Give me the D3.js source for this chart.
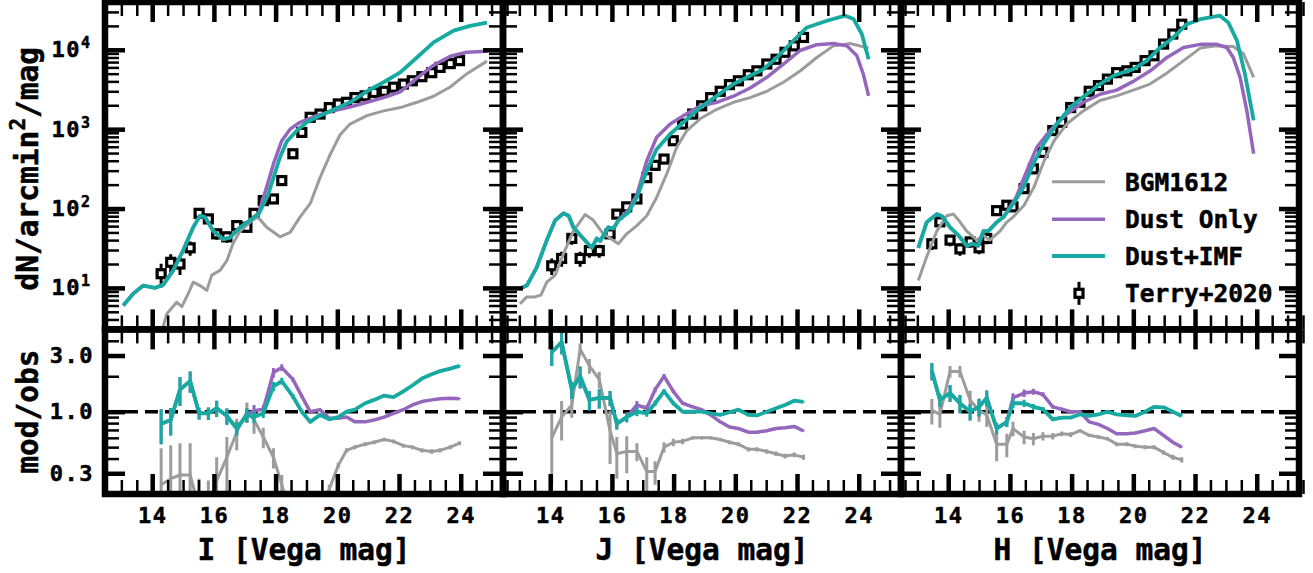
<!DOCTYPE html>
<html><head><meta charset="utf-8">
<script src="https://cdn.jsdelivr.net/npm/d3@7/dist/d3.min.js"></script>
<style>
body{margin:0;background:#fff}
text{font-family:"DejaVu Sans Mono",monospace;font-weight:bold;fill:#000;stroke:#000;stroke-width:0.5px}
</style></head>
<body><svg id="c" width="1313" height="573"></svg>
<script>
// ---------------- data ----------------
const bandNames = ["I","J","H"];
const xAxisLabels = ["I [Vega mag]","J [Vega mag]","H [Vega mag]"];
const seriesNames = ["BGM1612","Dust Only","Dust+IMF","Terry+2020"];
const xMajorTicks = [14,16,18,20,22,24];
const yTopTickLabels = [10,100,1000,10000];
const yBotTickValues = [0.3,1,3];
const yBotTickLabels = ["0.3","1.0","3.0"];

// I band
const I_bgm_mag = [14.31,14.47,14.79,14.96,15.17,15.33,15.55,15.77,15.93,16.2,16.42,16.63,16.85,17.17,17.39,17.5,17.71,18.14,18.47,18.79,19.12,19.44,19.77,20.09,20.41,20.96,21.5,22.04,22.58,23.12,23.66,24.2,24.85];
const I_bgm_val = [2.8,4.7,6.6,5.8,8.5,11.8,10.7,9.3,14.5,16.6,22,37,52,67,78,72,58,44,50,78,115,245,480,850,1160,1480,1700,1870,2180,2600,3400,5000,7200];
const I_dust_mag = [13.06,13.39,13.71,14.09,14.36,14.68,15.0,15.33,15.55,15.71,15.98,16.31,16.52,16.85,17.17,17.45,17.71,17.93,18.2,18.47,18.79,19.33,19.87,20.41,20.96,21.5,22.04,22.58,23.12,23.66,24.2,24.85];
const I_dust_val = [6.0,8.5,10.7,10,11,16.6,29.5,58,81,78,52,41,43,58,71,88,186,365,716,1000,1220,1480,1700,1900,2180,2500,2950,4400,6400,8300,9300,9600];
const I_imf_mag = [13.06,13.39,13.71,14.09,14.36,14.68,15.0,15.33,15.55,15.71,15.98,16.31,16.52,16.85,17.17,17.45,17.76,17.95,18.14,18.36,18.69,19.01,19.44,19.87,20.41,20.96,21.5,22.04,22.58,23.12,23.77,24.3,24.85];
const I_imf_val = [6.0,8.5,10.7,10,11,16.6,29.5,58,81,78,52,41,43,58,71,85,150,260,440,700,960,1220,1480,1750,2180,3000,3900,5200,8000,12400,17400,20000,22000];
const I_obs_mag = [14.29,14.6,14.9,15.23,15.52,15.82,16.09,16.42,16.74,17.07,17.3,17.6,17.93,18.2,18.56,18.85,19.12,19.44,19.74,20.03,20.3,20.57,20.9,21.19,21.52,21.82,22.14,22.43,22.74,23.06,23.33,23.66,23.96];
const I_obs_val = [15.1,21,20,32,87,74,48,44,61,58,87,126,132,225,490,910,1410,1550,1870,2080,2180,2500,2630,2900,3000,3380,3700,4070,4580,5150,6000,6700,7300];
const I_obs_err = [5,5.5,5.5,6.5,10,9,7.5,7,8,8,10,11,12,15,22,30,37,39,43,45,46,50,51,54,55,58,61,64,68,72,77,82,85];
const I_ratio_bgm = [0.24,0.27,0.29,0.29,0.15,0.14,0.26,0.41,0.67,1.0,0.85,0.61,0.41,0.24,0.11,0.09,0.08,0.16,0.22,0.35,0.47,0.50,0.53,0.55,0.58,0.56,0.515,0.50,0.47,0.46,0.47,0.50,0.54];
const I_ratio_bgm_err = [0.25,0.25,0.25,0.25,0.12,0.12,0.15,0.2,0.2,0.2,0.2,0.12,0.08,0.05,0.02,0.02,0.01,0.02,0.02,0.02,0.02,0.02,0.02,0.02,0.02,0.02,0.02,0.02,0.02,0.02,0.02,0.02,0.02];
const I_ratio_dust = [0.79,0.85,1.54,1.82,0.97,0.97,1.07,0.92,0.72,0.94,1.02,1.05,2.15,2.37,1.88,1.35,1.0,1.04,0.88,0.88,0.9,0.82,0.82,0.85,0.9,0.97,1.04,1.14,1.22,1.26,1.29,1.30,1.29];
const I_ratio_imf = [0.79,0.85,1.54,1.82,0.97,0.97,1.07,0.92,0.72,0.94,0.9,0.97,1.64,1.82,1.35,1.0,0.82,0.94,0.86,0.90,1.0,1.04,1.18,1.26,1.37,1.33,1.49,1.67,1.91,2.08,2.21,2.32,2.45];

// J band
const J_bgm_mag = [13.02,13.24,13.5,13.7,13.89,14.16,14.43,14.75,15.13,15.4,15.72,16.21,16.48,16.81,17.13,17.45,17.78,18.1,18.43,18.86,19.4,19.94,20.48,21.02,21.56,22.1,22.64,23.18,23.72,24.32];
const J_bgm_val = [6.3,7.7,7.7,8.1,11.8,14.5,27,52,84,71,48,36,48,61,81,138,275,590,960,1350,1780,2180,2500,3000,3900,5400,8000,11200,12000,10500];
const J_dust_mag = [13.02,13.24,13.56,13.89,14.16,14.43,14.6,14.75,15.07,15.35,15.51,15.62,15.88,16.05,16.21,16.53,16.81,17.13,17.45,17.89,18.32,18.86,19.4,19.94,20.48,21.02,21.56,22.1,22.64,23.18,23.62,23.94,24.15,24.32];
const J_dust_val = [9.8,10.7,18,40,71,87,81,58,42,32,42,39,58,56,71,95,150,400,790,1160,1480,1950,2180,2600,3300,4500,6600,9800,11600,12000,11200,8400,4900,2630];
const J_imf_mag = [13.02,13.24,13.56,13.89,14.16,14.43,14.6,14.75,15.07,15.35,15.51,15.62,15.88,16.05,16.21,16.53,16.81,17.13,17.45,17.89,18.32,18.86,19.4,19.94,20.48,20.91,21.35,21.88,22.32,22.97,23.56,23.83,24.1,24.32];
const J_imf_val = [9.8,10.7,18,40,71,87,81,58,42,32,42,39,58,56,71,89,138,300,560,870,1220,1870,2630,3700,4700,5700,8000,13000,19100,23200,26900,24500,15800,7600];
const J_obs_mag = [14.05,14.37,14.7,14.97,15.27,15.59,15.94,16.16,16.48,16.81,17.13,17.4,17.69,17.99,18.29,18.62,18.91,19.2,19.51,19.81,20.1,20.42,20.7,21.02,21.32,21.61,21.91,22.21];
const J_obs_val = [19,23.5,42,23.5,29.5,29.5,48,85,105,132,245,350,420,715,1160,1550,1970,2500,3000,3640,4070,4850,5430,6620,7600,9300,11200,14300];
const J_obs_err = [4.5,5,7,5,5.5,5.5,7,9,10,11,16,19,20,27,34,39,44,50,55,60,64,70,74,81,87,96,106,120];
const J_ratio_bgm = [0.6,0.9,1.14,3.4,2.45,1.88,0.69,0.44,0.46,0.46,0.31,0.31,0.5,0.55,0.56,0.6,0.6,0.6,0.58,0.55,0.53,0.48,0.48,0.46,0.44,0.42,0.43,0.41];
const J_ratio_bgm_err = [0.36,0.33,0.25,0.4,0.35,0.3,0.33,0.17,0.16,0.08,0.1,0.07,0.05,0.04,0.03,0.02,0.02,0.02,0.02,0.02,0.02,0.02,0.02,0.02,0.02,0.02,0.02,0.02];
const J_ratio_dust = [3.2,3.9,1.54,2.0,1.26,1.31,1.31,0.79,0.9,1.14,1.07,1.54,2.0,1.49,1.18,1.1,1.04,0.94,0.82,0.74,0.72,0.67,0.67,0.69,0.72,0.73,0.75,0.685];
const J_ratio_imf = [3.2,3.9,1.54,2.0,1.26,1.31,1.31,0.79,0.9,1.0,0.97,1.18,1.49,1.18,1.0,1.0,1.0,0.97,0.94,0.99,1.04,0.94,0.93,1.0,1.07,1.14,1.24,1.21];

// H band
const H_bgm_mag = [13.03,13.3,13.63,13.95,14.17,14.38,14.6,14.93,15.14,15.35,15.68,15.89,16.1,16.46,16.78,17.11,17.43,17.84,18.38,18.92,19.46,20.0,20.54,21.09,21.63,22.17,22.7,23.24,23.57,23.9];
const H_bgm_val = [12.4,24.5,52,81,85,68,52,40,46,40,52,67,78,110,186,400,715,1160,1700,2300,2630,3100,3700,5100,7300,10500,11200,11000,8900,4500];
const H_dust_mag = [13.03,13.3,13.63,13.8,14.06,14.33,14.6,14.8,14.97,15.14,15.3,15.57,15.79,16.2,16.55,16.87,17.3,17.84,18.38,18.92,19.46,20.0,20.54,21.09,21.63,22.17,22.7,23.03,23.24,23.46,23.68,23.9];
const H_dust_val = [32,67,85,80,58,46,34,36,34,52,52,67,78,138,300,590,960,1550,2180,2750,3100,4000,5400,8000,10700,11700,11700,10700,8000,4500,1700,490];
const H_imf_mag = [13.03,13.3,13.63,13.8,14.06,14.33,14.6,14.8,14.97,15.14,15.3,15.57,15.79,16.11,16.44,16.76,17.09,17.52,17.95,18.49,18.92,19.35,20.0,20.44,20.87,21.3,21.73,22.17,22.81,23.08,23.36,23.62,23.9];
const H_imf_val = [32,67,85,80,58,46,34,36,34,52,52,67,78,115,186,365,650,1160,1870,2750,3700,4700,5700,7300,10700,14300,21000,24300,26900,22000,13000,4900,1290];
const H_obs_mag = [13.47,13.73,14.06,14.38,14.71,15.0,15.25,15.57,15.9,16.1,16.46,16.76,17.07,17.39,17.68,17.97,18.27,18.57,18.87,19.16,19.46,19.79,20.06,20.38,20.67,20.98,21.28,21.57];
const H_obs_val = [36,68,40,31,38,32,42,94,110,105,178,316,510,960,1220,1870,2180,3000,3540,4270,5150,5430,6000,7300,8400,11800,15800,21000];
const H_obs_err = [6,8.5,6.5,5.5,6,5.5,6.5,10,10.5,10,13,18,23,31,35,43,47,55,60,65,72,74,78,85,92,109,126,145];
const H_ratio_bgm = [1.03,0.95,2.2,2.2,1.26,1.02,0.94,0.53,0.53,0.72,0.61,0.59,0.62,0.62,0.65,0.64,0.69,0.63,0.61,0.59,0.53,0.53,0.51,0.50,0.50,0.45,0.41,0.39];
const H_ratio_bgm_err = [0.25,0.22,0.25,0.25,0.25,0.2,0.2,0.15,0.12,0.1,0.08,0.07,0.05,0.04,0.03,0.03,0.02,0.02,0.02,0.02,0.02,0.02,0.02,0.02,0.02,0.02,0.02,0.02];
const H_ratio_dust = [2.22,1.26,1.44,1.18,1.0,1.10,1.31,0.72,0.82,1.31,1.44,1.48,1.40,1.10,1.05,1.0,1.0,0.82,0.78,0.72,0.65,0.65,0.66,0.69,0.72,0.63,0.55,0.50];
const H_ratio_imf = [2.22,1.26,1.44,1.18,1.0,1.10,1.31,0.72,0.82,1.18,1.18,1.10,1.05,0.86,0.89,0.89,0.95,0.92,0.95,1.0,0.95,0.93,0.92,1.0,1.10,1.09,1.0,0.92];

const colors = {bgm:"#9c9c9c", dust:"#9467bd", imf:"#17aaa2"};

// -------------- build --------------
const panels = [
 {bgm:[I_bgm_mag,I_bgm_val],dust:[I_dust_mag,I_dust_val],imf:[I_imf_mag,I_imf_val],obs:[I_obs_mag,I_obs_val,I_obs_err],rat:[I_ratio_bgm,I_ratio_dust,I_ratio_imf],gerr:I_ratio_bgm_err},
 {bgm:[J_bgm_mag,J_bgm_val],dust:[J_dust_mag,J_dust_val],imf:[J_imf_mag,J_imf_val],obs:[J_obs_mag,J_obs_val,J_obs_err],rat:[J_ratio_bgm,J_ratio_dust,J_ratio_imf],gerr:J_ratio_bgm_err},
 {bgm:[H_bgm_mag,H_bgm_val],dust:[H_dust_mag,H_dust_val],imf:[H_imf_mag,H_imf_val],obs:[H_obs_mag,H_obs_val,H_obs_err],rat:[H_ratio_bgm,H_ratio_dust,H_ratio_imf],gerr:H_ratio_bgm_err}
];
const zip = (a,b)=>a.map((v,i)=>[v,b[i]]);

const svg = d3.select("#c");
const X0 = [105,503,901], PW = 398;
const yTop = 2, ySplit = 329.4, yBot = 494;
const xDomain = [12.47,25.37];
const SPINE = 6.5, MAJ = 20, MIN = 14, MAJW = 4.5, MINW = 2.5;
const TICKFS = 22;

const xMinorTicks = d3.range(12.5,25.6,0.5).filter(v=>v%2!==0);
const topMinor = [], topMajor=[10,100,1000,10000];
[1,10,100,1000,10000].forEach(p=>{for(let k=2;k<=9;k++){const v=k*p; if(v>=3&&v<=4e4) topMinor.push(v);}});
const botMinor = [0.2,0.4,0.5,0.6,0.7,0.8,0.9,2,4,5];

function ticks(g, axisFn, scale, values, size, width){
  const a = g.append("g").call(axisFn(scale).tickValues(values).tickSize(-size).tickFormat(""));
  a.select(".domain").remove();
  a.selectAll(".tick line").attr("stroke","#000").attr("stroke-width",width);
  return a;
}

panels.forEach((P,i)=>{
  const x = d3.scaleLinear().domain(xDomain).range([X0[i],X0[i]+PW]);
  const yT = d3.scaleLog().domain([3,4e4]).range([ySplit,yTop]);
  const yB = d3.scaleLog().domain([0.2,5]).range([yBot,ySplit]);

  const cidT = "clipT"+i, cidB="clipB"+i;
  svg.append("clipPath").attr("id",cidT).append("rect").attr("x",X0[i]).attr("y",yTop).attr("width",PW).attr("height",ySplit-yTop);
  svg.append("clipPath").attr("id",cidB).append("rect").attr("x",X0[i]).attr("y",ySplit).attr("width",PW).attr("height",yBot-ySplit);

  // ---- top panel ----
  const gT = svg.append("g").attr("clip-path",`url(#${cidT})`);
  const lineT = d3.line().x(d=>x(d[0])).y(d=>yT(d[1]));
  const obs = P.obs[0].map((m,k)=>({m, v:P.obs[1][k], e:P.obs[2][k]}));
  gT.selectAll(".eb").data(obs).join("line")
    .attr("x1",d=>x(d.m)).attr("x2",d=>x(d.m))
    .attr("y1",d=>yT(Math.max(d.v-d.e,0.01))).attr("y2",d=>yT(d.v+d.e))
    .attr("stroke","#000").attr("stroke-width",3);
  gT.selectAll(".mk").data(obs).join("rect")
    .attr("x",d=>x(d.m)-4).attr("y",d=>yT(d.v)-4).attr("width",8).attr("height",8)
    .attr("fill","#fff").attr("stroke","#000").attr("stroke-width",3.2);
  [["bgm",3],["dust",3.5],["imf",3.8]].forEach(([k,w])=>{
    gT.append("path").attr("d",lineT(zip(P[k][0],P[k][1]))).attr("fill","none")
      .attr("stroke",colors[k]).attr("stroke-width",w).attr("stroke-linejoin","round");
  });

  // ---- bottom panel ----
  const gB = svg.append("g").attr("clip-path",`url(#${cidB})`);
  gB.append("line").attr("x1",X0[i]).attr("x2",X0[i]+PW).attr("y1",yB(1)).attr("y2",yB(1))
    .attr("stroke","#000").attr("stroke-width",3.5).attr("stroke-dasharray","13,7");
  const lineB = d3.line().x(d=>x(d[0])).y(d=>yB(Math.max(d[1],0.01)));
  const keys = ["bgm","dust","imf"], widths=[3,3.5,3.8];
  P.rat.forEach((r,s)=>{
    const col = colors[keys[s]];
    const pts = P.obs[0].map((m,k)=>({m, r:r[k], e: s===0 ? P.gerr[k] : r[k]*P.obs[2][k]/P.obs[1][k]}));
    gB.append("g").selectAll("line").data(pts).join("line")
      .attr("x1",d=>x(d.m)).attr("x2",d=>x(d.m))
      .attr("y1",d=>yB(Math.max(d.r-d.e,0.01))).attr("y2",d=>yB(d.r+d.e))
      .attr("stroke",col).attr("stroke-width",3);
    gB.append("path").attr("d",lineB(zip(P.obs[0],r))).attr("fill","none")
      .attr("stroke",col).attr("stroke-width",widths[s]).attr("stroke-linejoin","round");
  });

  // ---- ticks & spines ----
  const L = X0[i], R = X0[i]+PW;
  [[yTop,ySplit,yT,topMajor,topMinor],[ySplit,yBot,yB,yBotTickValues,botMinor]].forEach(([t,b,ys,maj,mnr])=>{
    ticks(svg.append("g").attr("transform",`translate(0,${b})`), d3.axisBottom, x, xMajorTicks, MAJ, MAJW);
    ticks(svg.append("g").attr("transform",`translate(0,${b})`), d3.axisBottom, x, xMinorTicks, MIN, MINW);
    ticks(svg.append("g").attr("transform",`translate(0,${t})`), d3.axisTop, x, xMajorTicks, MAJ, MAJW);
    ticks(svg.append("g").attr("transform",`translate(0,${t})`), d3.axisTop, x, xMinorTicks, MIN, MINW);
    ticks(svg.append("g").attr("transform",`translate(${L},0)`), d3.axisLeft, ys, maj, MAJ, MAJW);
    ticks(svg.append("g").attr("transform",`translate(${L},0)`), d3.axisLeft, ys, mnr, MIN, MINW);
    ticks(svg.append("g").attr("transform",`translate(${R},0)`), d3.axisRight, ys, maj, MAJ, MAJW);
    ticks(svg.append("g").attr("transform",`translate(${R},0)`), d3.axisRight, ys, mnr, MIN, MINW);
    svg.append("rect").attr("x",L).attr("y",t).attr("width",PW).attr("height",b-t)
      .attr("fill","none").attr("stroke","#000").attr("stroke-width",SPINE);
  });

  const ax = svg.append("g").attr("transform",`translate(0,${yBot})`)
    .call(d3.axisBottom(x).tickValues(xMajorTicks).tickSize(0).tickPadding(13).tickFormat(d3.format("d")));
  ax.select(".domain").remove();
  ax.selectAll("text").attr("font-size",TICKFS).attr("font-family",null).attr("letter-spacing",1.5);
  svg.append("text").attr("x",(L+R)/2).attr("y",560).attr("text-anchor","middle")
    .attr("font-size",29.5).text(xAxisLabels[i]);

  if(i===0){
    const ay = svg.append("g").attr("transform",`translate(${L},0)`)
      .call(d3.axisLeft(yT).tickValues(yTopTickLabels).tickSize(0).tickPadding(15).tickFormat(""));
    ay.select(".domain").remove();
    ay.selectAll("text").attr("font-size",TICKFS).attr("font-family",null).each(function(d){
      const t = d3.select(this);
      t.append("tspan").attr("letter-spacing",1.5).text("10");
      t.append("tspan").attr("font-size",15).attr("dy","-0.6em").text(String(Math.round(Math.log10(d))));
    });
    const ab = svg.append("g").attr("transform",`translate(${L},0)`)
      .call(d3.axisLeft(yB).tickValues(yBotTickValues).tickSize(0).tickPadding(11).tickFormat((d,k)=>yBotTickLabels[k]));
    ab.select(".domain").remove();
    ab.selectAll("text").attr("font-size",TICKFS).attr("font-family",null).attr("letter-spacing",1.5);
    const yl = svg.append("text").attr("transform",`translate(38,${(yTop+ySplit)/2+3}) rotate(-90)`)
      .attr("text-anchor","middle").attr("font-size",29.5);
    yl.append("tspan").text("dN/arcmin");
    yl.append("tspan").attr("font-size",21).attr("dy","-0.6em").text("2");
    yl.append("tspan").attr("dy","0.43em").text("/mag");
    svg.append("text").attr("transform",`translate(38,${yB(1)}) rotate(-90)`)
      .attr("text-anchor","middle").attr("font-size",29.5).text("mod/obs");
  }
});

// ---- legend ----
const lg = svg.append("g");
const legY = [181.7,219.3,256,293.3];
["bgm","dust","imf"].forEach((k,j)=>{
  lg.append("line").attr("x1",1052).attr("x2",1105).attr("y1",legY[j]).attr("y2",legY[j])
    .attr("stroke",colors[k]).attr("stroke-width",[3,3.5,3.8][j]);
});
lg.append("line").attr("x1",1079).attr("x2",1079).attr("y1",legY[3]-11.5).attr("y2",legY[3]+11.5).attr("stroke","#000").attr("stroke-width",3);
lg.append("rect").attr("x",1075).attr("y",legY[3]-4).attr("width",8).attr("height",8).attr("fill","#fff").attr("stroke","#000").attr("stroke-width",3.2);
seriesNames.forEach((n,j)=>{
  lg.append("text").attr("x",1125).attr("y",legY[j]).attr("dy","0.36em").attr("font-size",24.5).text(n);
});
</script></body></html>
